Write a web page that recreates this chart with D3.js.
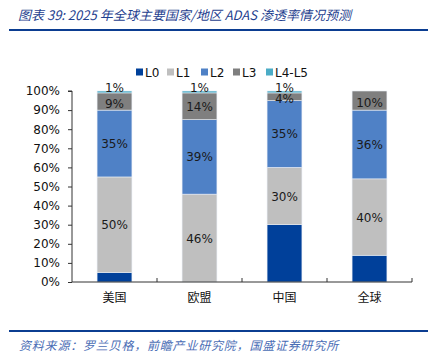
<!DOCTYPE html>
<html>
<head>
<meta charset="utf-8">
<script src="https://cdn.jsdelivr.net/npm/d3@7"></script>
<style>
body { margin: 0; background: #fff; }
svg { display: block; }
</style>
</head>
<body>
<svg width="439" height="363"></svg>
<script>
const d3 = window.d3;
const categories = ["美国", "欧盟", "中国", "全球"];
const levels = ["L0", "L1", "L2", "L3", "L4-L5"];
const L0 = [5, 0, 30, 14];
const L1 = [50, 46, 30, 40];
const L2 = [35, 39, 35, 36];
const L3 = [9, 14, 4, 10];
const L45 = [1, 1, 1, 0];
const yTicks = [0, 10, 20, 30, 40, 50, 60, 70, 80, 90, 100];
const colors = ["#00409a", "#bfbfbf", "#4f81c6", "#7f7f7f", "#4bacc6"];

const svg = d3.select("svg");
const plot = { left: 72, right: 412, top: 91, bottom: 282 };

// title + rules
svg.append("text")
	.attr("x", 18).attr("y", 20)
	.attr("font-family", "Noto Sans CJK SC")
	.attr("font-style", "italic")
	.attr("font-size", 13)
	.attr("fill", "#1f3f8f")
	.text("图表 39:  2025 年全球主要国家/地区 ADAS 渗透率情况预测");
svg.append("rect").attr("x", 9).attr("y", 29).attr("width", 419).attr("height", 2).attr("fill", "#0b3d91");
svg.append("rect").attr("x", 9).attr("y", 330).attr("width", 419).attr("height", 2).attr("fill", "#0b3d91");
svg.append("text")
	.attr("x", 19).attr("y", 350)
	.attr("font-family", "Noto Sans CJK SC")
	.attr("font-style", "italic")
	.attr("font-size", 12)
	.attr("letter-spacing", 0.8)
	.attr("fill", "#4a6db5")
	.text("资料来源：罗兰贝格，前瞻产业研究院，国盛证券研究所");

const rows = categories.map((c, i) => ({
	cat: c, L0: L0[i], L1: L1[i], L2: L2[i], L3: L3[i], "L4-L5": L45[i]
}));
const series = d3.stack().keys(levels)(rows);

const x = d3.scaleBand().domain(categories).range([plot.left, plot.right]).paddingInner(0.59).paddingOuter(0.295);
const y = d3.scaleLinear().domain([0, 100]).range([plot.bottom, plot.top]);

// bars
series.forEach((s, k) => {
	svg.append("g").selectAll("rect")
		.data(s)
		.join("rect")
		.attr("x", d => x(d.data.cat))
		.attr("width", x.bandwidth())
		.attr("y", d => y(d[1]))
		.attr("height", d => y(d[0]) - y(d[1]))
		.attr("fill", colors[k])
		.attr("stroke", "#e8edf4")
		.attr("stroke-width", 0.6);
});

// value labels (thin top segments nudged apart like the original)
function labelY(d) {
	const v = d[1] - d[0];
	let cy = y((d[0] + d[1]) / 2);
	if (v <= 2) cy -= 4;
	else if (v < 12) cy += 1.5;
	return cy + 4.5;
}
series.forEach(s => {
	svg.append("g").selectAll("text")
		.data(s.filter(d => d[1] - d[0] > 0 && !(s.key === "L0")))
		.join("text")
		.attr("x", d => x(d.data.cat) + x.bandwidth() / 2)
		.attr("y", labelY)
		.attr("text-anchor", "middle")
		.attr("font-family", "DejaVu Sans")
		.attr("font-size", 12)
		.attr("fill", "#1a1a1a")
		.text(d => (d[1] - d[0]) + "%");
});

// y axis
const yAxis = svg.append("g")
	.attr("transform", `translate(${plot.left},0)`)
	.call(d3.axisLeft(y).tickValues(yTicks).tickSize(4).tickFormat(d => d + "%"));
yAxis.select(".domain").attr("stroke", "#333").attr("d", `M-4,${plot.top}H0V${plot.bottom}`);
yAxis.selectAll(".tick line").attr("stroke", "#333");
yAxis.selectAll(".tick text")
	.attr("x", -12)
	.attr("font-family", "DejaVu Sans")
	.attr("font-size", 12)
	.attr("fill", "#111");

// x axis
const xAxis = svg.append("g").attr("transform", `translate(0,${plot.bottom})`);
xAxis.append("line").attr("x1", plot.left).attr("x2", plot.right).attr("stroke", "#333");
const bounds = d3.range(1, categories.length + 1).map(i => plot.left + i * x.step());
xAxis.selectAll("line.tk").data(bounds).join("line").attr("class", "tk")
	.attr("x1", d => d).attr("x2", d => d).attr("y1", 0).attr("y2", -4).attr("stroke", "#333");
xAxis.selectAll("text").data(categories).join("text")
	.attr("x", d => x(d) + x.bandwidth() / 2)
	.attr("y", 20)
	.attr("text-anchor", "middle")
	.attr("font-family", "Noto Sans CJK SC")
	.attr("font-size", 12)
	.attr("fill", "#111")
	.text(d => d);

// legend
const legendX = [136, 167, 201, 233, 266];
const legend = svg.append("g").selectAll("g").data(levels).join("g")
	.attr("transform", (d, i) => `translate(${legendX[i]},67)`);
legend.append("rect").attr("width", 7).attr("height", 7).attr("y", 1.5).attr("fill", (d, i) => colors[i]);
legend.append("text").attr("x", 9).attr("y", 9.5)
	.attr("font-family", "DejaVu Sans")
	.attr("font-size", 12)
	.attr("fill", "#111")
	.text(d => d);
</script>
</body>
</html>
